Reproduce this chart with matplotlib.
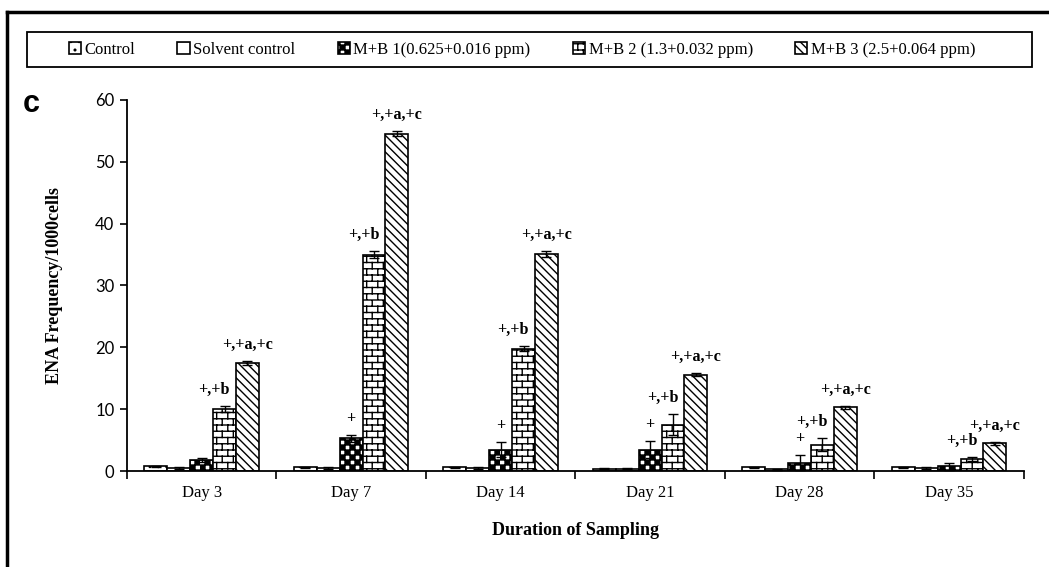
import warnings
import numpy as np
import matplotlib
matplotlib.use('Agg')
import matplotlib.pyplot as plt
from matplotlib import hatch as mhatch
from matplotlib.path import Path
from matplotlib.lines import Line2D
from matplotlib.patches import Rectangle

warnings.filterwarnings('ignore')

# data
days = ['Day 3', 'Day 7', 'Day 14', 'Day 21', 'Day 28', 'Day 35']
series = ['Control', 'Solvent control', 'M+B 1(0.625+0.016 ppm)',
          'M+B 2 (1.3+0.032 ppm)', 'M+B 3 (2.5+0.064 ppm)']
control = [0.8, 0.6, 0.6, 0.4, 0.6, 0.6]
solvent = [0.5, 0.5, 0.5, 0.4, 0.3, 0.5]
mb1 = [1.8, 5.3, 3.5, 3.5, 1.4, 0.8]
mb2 = [10.0, 35.0, 19.8, 7.5, 4.3, 2.0]
mb3 = [17.5, 54.5, 35.1, 15.6, 10.3, 4.5]
err_control = [0.1, 0.1, 0.1, 0.1, 0.1, 0.1]
err_solvent = [0.1, 0.1, 0.1, 0.1, 0.1, 0.1]
err_mb1 = [0.3, 0.6, 1.2, 1.4, 1.2, 0.6]
err_mb2 = [0.5, 0.5, 0.4, 1.7, 1.0, 0.3]
err_mb3 = [0.3, 0.4, 0.5, 0.3, 0.3, 0.2]
sig_mb1 = ['', '+', '+', '+', '+', '']
sig_mb2 = ['+,+b'] * 6
sig_mb3 = ['+,+a,+c'] * 6


# custom hatches: checkerboard ('c') and brick ('k')
class Checker(mhatch.HatchPatternBase):
    def __init__(self, hatch, density):
        self.n = 10 * hatch.count('c')
        self.num_vertices = (self.n * self.n // 2) * 5

    def set_vertices_and_codes(self, vertices, codes):
        s = 1.0 / self.n
        k = 0
        for i in range(self.n):
            for j in range(self.n):
                if (i + j) % 2:
                    continue
                x0, y0 = i * s, j * s
                vertices[k:k + 5] = [[x0, y0], [x0 + s, y0], [x0 + s, y0 + s],
                                     [x0, y0 + s], [x0, y0]]
                codes[k:k + 5] = [Path.MOVETO, Path.LINETO, Path.LINETO,
                                  Path.LINETO, Path.CLOSEPOLY]
                k += 5


class Brick(mhatch.HatchPatternBase):
    def __init__(self, hatch, density):
        self.rows = 8 * hatch.count('k')
        self.cols = self.rows * 9 // 16
        if self.rows:
            self.num_vertices = (self.rows + 1) * 2 + self.rows * self.cols * 2
        else:
            self.num_vertices = 0

    def set_vertices_and_codes(self, vertices, codes):
        h = 1.0 / self.rows
        w = 1.0 / self.cols
        k = 0
        for r in range(self.rows + 1):
            vertices[k:k + 2] = [[0, r * h], [1, r * h]]
            codes[k:k + 2] = [Path.MOVETO, Path.LINETO]
            k += 2
        for r in range(self.rows):
            off = 0.5 * w if r % 2 else 0.0
            for c in range(self.cols):
                x = c * w + off
                vertices[k:k + 2] = [[x, r * h], [x, (r + 1) * h]]
                codes[k:k + 2] = [Path.MOVETO, Path.LINETO]
                k += 2


mhatch._hatch_types.extend([Checker, Brick])

plt.rcParams['hatch.linewidth'] = 1.0
serif = 'Liberation Serif'

fig = plt.figure(figsize=(10.49, 5.67), dpi=100)
ax = fig.add_axes([0.121, 0.169, 0.855, 0.655])

values = [control, solvent, mb1, mb2, mb3]
errors = [err_control, err_solvent, err_mb1, err_mb2, err_mb3]
labels = [None, None, sig_mb1, sig_mb2, sig_mb3]
label_dx = [0, 0, 0, -0.07, 0]
hatches = ['..', '-', 'cc', 'kk', '\\\\\\\\']

x = np.arange(len(days))
w = 0.153
for k in range(5):
    pos = x + (k - 2) * w
    ax.bar(pos, values[k], w, color='white', edgecolor='black', linewidth=1.2,
           hatch=hatches[k], label=series[k], zorder=2)
    ax.errorbar(pos, values[k], yerr=errors[k], fmt='none', ecolor='black',
                elinewidth=1.0, capsize=3.5, capthick=1.0, zorder=3)
    if labels[k]:
        for p, v, e, t in zip(pos, values[k], errors[k], labels[k]):
            if t:
                ax.text(p + label_dx[k], v + e + 2.6, t, ha='center', va='center',
                        family=serif, fontweight='bold', fontsize=11.5)

ax.set_xlim(-0.5, len(days) - 0.5)
ax.set_ylim(0, 60)
ax.set_yticks(range(0, 61, 10))
ax.set_xticks(x)
ax.set_xticklabels(days, family=serif, fontsize=12)
ax.set_xticks(np.arange(-0.5, len(days)), minor=True)
ax.tick_params(axis='x', which='major', length=0, pad=10)
ax.tick_params(axis='x', which='minor', length=6, direction='out', width=1.2)
ax.tick_params(axis='y', length=5, width=1.2, labelsize=12, pad=4)
for t in ax.get_yticklabels():
    t.set_family('Lato')
for s in ['top', 'right']:
    ax.spines[s].set_visible(False)
for s in ['left', 'bottom']:
    ax.spines[s].set_linewidth(1.3)

ax.set_xlabel('Duration of Sampling', family=serif, fontweight='bold',
              fontsize=13, labelpad=15)
ax.set_ylabel('ENA Frequency/1000cells', family=serif, fontweight='bold',
              fontsize=13, labelpad=23)

fig.text(23 / 1049, 1 - 104 / 567, 'c', family='Liberation Sans', fontweight='bold',
         fontsize=22, va='center', ha='left')

# legend box and outer frame
fig.patches.append(Rectangle((27 / 1049, 1 - 67 / 567), 1005 / 1049, 35 / 567,
                             transform=fig.transFigure, fill=False,
                             edgecolor='black', linewidth=1.3))
fig.legend(loc='center left', bbox_to_anchor=(62 / 1049, 1 - 50 / 567, 920 / 1049, 0),
           mode='expand', ncol=5, frameon=False, prop={'family': serif, 'size': 12},
           handlelength=0.75, handleheight=0.75, handletextpad=0.2, borderaxespad=0)
fig.lines.append(Line2D([7 / 1049, 1], [1 - 12 / 567, 1 - 12 / 567],
                        transform=fig.transFigure, color='black', linewidth=2.5))
fig.lines.append(Line2D([7 / 1049, 7 / 1049], [0, 1 - 12 / 567],
                        transform=fig.transFigure, color='black', linewidth=2.5))

fig.savefig('out.png', dpi=100)
